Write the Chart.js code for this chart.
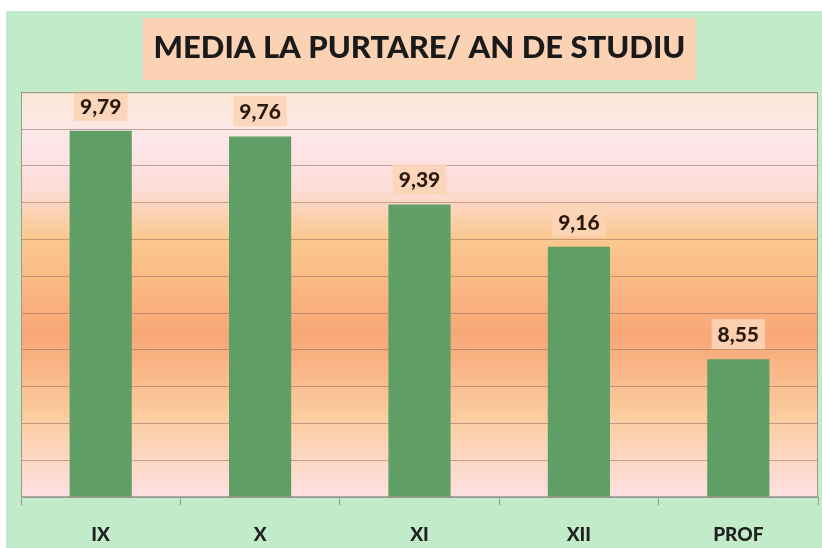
<!DOCTYPE html>
<html>
<head>
<meta charset="utf-8">
<script src="https://cdn.jsdelivr.net/npm/chart.js@4.4.0/dist/chart.umd.min.js"></script>
<style>
  html, body { margin: 0; padding: 0; background: #ffffff; }
  #wrap { position: absolute; left: 6px; top: 11px; width: 816px; height: 537px; background: #c2ebc9; }
</style>
</head>
<body>
<div id="wrap"><canvas id="chart" width="816" height="537"></canvas></div>
<script>
const categories = ['IX', 'X', 'XI', 'XII', 'PROF'];
const averages = [9.79, 9.76, 9.39, 9.16, 8.55];
const chartTitle = 'MEDIA LA PURTARE/ AN DE STUDIU';

const FONT = 'Lato, "Open Sans", sans-serif';

const backdropPlugin = {
    id: 'backdrop',
    beforeDraw(chart) {
        const { ctx, chartArea: a } = chart;
        ctx.save();
        // plot area gradient
        const g = ctx.createLinearGradient(0, a.top, 0, a.bottom);
        g.addColorStop(0, '#fbe9d6');
        g.addColorStop(0.12, '#fde6ea');
        g.addColorStop(0.24, '#fcdcd6');
        g.addColorStop(0.36, '#fbc98f');
        g.addColorStop(0.6, '#f8a676');
        g.addColorStop(0.8, '#fbcd9f');
        g.addColorStop(1, '#fde0e2');
        ctx.fillStyle = g;
        ctx.fillRect(a.left, a.top, a.right - a.left, a.bottom - a.top);
        // title background
        ctx.font = 'bold 31px ' + FONT;
        const w = ctx.measureText(chartTitle).width;
        const cx = (a.left + a.right) / 2;
        ctx.fillStyle = '#fbd2b4';
        ctx.fillRect(cx - w / 2 - 12, 7, w + 24, 62);
        ctx.restore();
    },
    afterDraw(chart) {
        const { ctx, chartArea: a } = chart;
        ctx.save();
        ctx.strokeStyle = '#9a9a90';
        ctx.lineWidth = 1;
        ctx.strokeRect(a.left + 0.5, a.top + 0.5, a.right - a.left - 1, a.bottom - a.top - 1);
        ctx.restore();
    }
};

const valueLabelPlugin = {
    id: 'valueLabels',
    afterDatasetsDraw(chart) {
        const { ctx } = chart;
        const meta = chart.getDatasetMeta(0);
        ctx.save();
        ctx.font = '900 21px ' + FONT;
        ctx.textAlign = 'center';
        ctx.textBaseline = 'middle';
        meta.data.forEach((bar, i) => {
            const txt = averages[i].toFixed(2).replace('.', ',');
            const w = ctx.measureText(txt).width;
            const y = bar.y - 25;
            ctx.fillStyle = 'rgba(252, 212, 182, 0.9)';
            ctx.fillRect(bar.x - w / 2 - 6, y - 15, w + 12, 30);
            ctx.fillStyle = '#2a1a10';
            ctx.fillText(txt, bar.x, y + 1);
        });
        ctx.restore();
    }
};

new Chart(document.getElementById('chart'), {
    type: 'bar',
    data: {
        labels: categories,
        datasets: [{
            data: averages,
            backgroundColor: '#5f9e64',
            categoryPercentage: 1,
            barPercentage: 0.39
        }]
    },
    options: {
        responsive: false,
        animation: false,
        layout: { padding: { left: 15, right: 4, bottom: -16, top: 0 } },
        plugins: {
            legend: { display: false },
            tooltip: { enabled: false },
            title: {
                display: true,
                text: chartTitle,
                color: '#1a1a1a',
                font: { family: FONT, size: 31, weight: '900' },
                padding: { top: 18, bottom: 26 }
            }
        },
        scales: {
            x: {
                grid: { offset: true, drawOnChartArea: false, tickLength: 8, color: '#9a9a90' },
                border: { color: '#9a9a90' },
                ticks: { color: '#222', font: { family: FONT, size: 19, weight: '900' }, padding: 18 }
            },
            y: {
                min: 7.8,
                max: 10,
                ticks: { stepSize: 0.2, display: false },
                grid: { color: 'rgba(150, 110, 95, 0.55)', drawTicks: false, tickLength: 0 },
                border: { display: false }
            }
        }
    },
    plugins: [backdropPlugin, valueLabelPlugin]
});
</script>
</body>
</html>
